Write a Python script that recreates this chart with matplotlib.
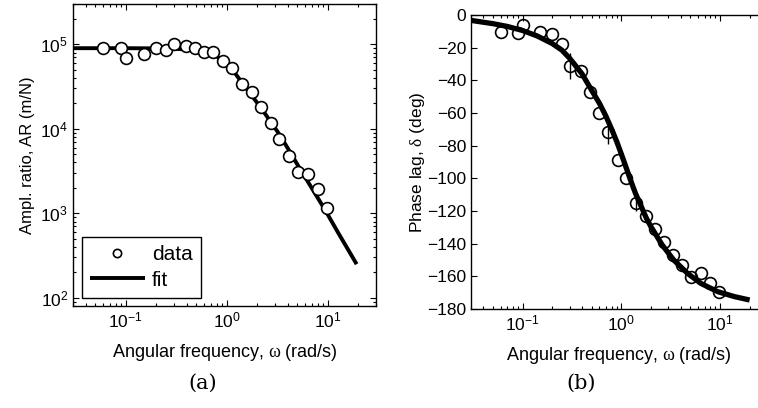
import matplotlib
matplotlib.use('Agg')
import matplotlib.pyplot as plt
from matplotlib.ticker import LogLocator, NullFormatter, MultipleLocator

plt.rcParams['font.family'] = ['Liberation Sans', 'DejaVu Sans']
plt.rcParams['mathtext.fontset'] = 'custom'
plt.rcParams['mathtext.rm'] = 'Liberation Sans'
plt.rcParams['mathtext.it'] = 'Liberation Sans:italic'
plt.rcParams['mathtext.sf'] = 'Liberation Serif'
plt.rcParams['axes.unicode_minus'] = True

# measured points (same frequencies in both panels)
omega = [0.06, 0.09, 0.1, 0.15, 0.2, 0.25, 0.3, 0.39, 0.48, 0.59, 0.73, 0.92,
         1.13, 1.4, 1.77, 2.18, 2.72, 3.32, 4.1, 5.1, 6.4, 8.0, 9.9]
ar_data = [9.1e4, 9.1e4, 6.9e4, 7.6e4, 9.0e4, 8.5e4, 1.0e5, 9.6e4, 9.1e4, 8.2e4,
           8.1e4, 6.3e4, 5.3e4, 3.4e4, 2.7e4, 1.82e4, 1.18e4, 7.5e3, 4.75e3,
           3.07e3, 2.9e3, 1.92e3, 1.16e3]
ar_err = [0, 0, 0, 0, 0, 0, 0, 0, 0, 0, 0, 0, 0, 5e3, 0, 0, 0, 0, 0, 0, 0, 0, 0]
phase_data = [-10.6, -11.2, -6.1, -10.6, -11.6, -17.6, -31.2, -34.3, -47.3, -60.0,
              -71.8, -88.8, -99.8, -115.1, -123.0, -130.8, -139.2, -147.1, -153.0,
              -160.4, -158.2, -163.9, -169.6]
phase_err = [0, 0, 0, 0, 0, 0, 8, 0, 0, 0, 7, 0, 0, 5, 0, 0, 0, 0, 0, 0, 0, 0, 0]

# fitted curves
fit_w_ar = [0.03, 0.1, 0.2, 0.3, 0.5, 0.7, 0.89, 1.13, 1.42, 1.78, 2.4, 3.25,
            4.08, 5.12, 6.92, 9.38, 12.7, 19.3]
fit_ar = [9.0e4, 9.0e4, 8.95e4, 8.85e4, 8.6e4, 7.9e4, 6.6e4, 5.05e4, 3.5e4,
          2.45e4, 1.5e4, 8.9e3, 5.7e3, 3.6e3, 2.0e3, 1.1e3, 5.85e2, 2.5e2]
fit_w_ph = [0.03, 0.05, 0.07, 0.1, 0.14, 0.2, 0.25, 0.3, 0.4, 0.5, 0.6, 0.7, 0.8,
            0.9, 1.0, 1.1, 1.24, 1.4, 1.57, 1.8, 2.0, 2.6, 3.4, 4.7, 6.4, 9.5,
            14.0, 20.0]
fit_ph = [-3.3, -5.3, -7.0, -9.5, -12.8, -17.5, -21.5, -26.5, -36.0, -46.0, -54.0,
          -62.0, -70.0, -77.5, -85.0, -92.0, -101.0, -109.5, -116.3, -124.5,
          -129.6, -140.8, -150.0, -158.2, -164.3, -169.4, -172.4, -174.5]

W, H = 758, 408
fig = plt.figure(figsize=(W / 100, H / 100), dpi=100)
ax1 = fig.add_axes([73 / W, 102 / H, 303 / W, 302 / H])
ax2 = fig.add_axes([471 / W, 99 / H, 296 / W, 294 / H])

xlabel = r'Angular frequency, $\mathsf{\omega}$ (rad/s)'


def style_axis(ax):
    ax.set_xscale('log')
    ax.set_xlim(0.03, 30)
    ax.xaxis.set_major_locator(LogLocator(base=10))
    ax.xaxis.set_minor_locator(LogLocator(base=10, subs=range(2, 10)))
    ax.xaxis.set_minor_formatter(NullFormatter())
    ax.tick_params(which='both', direction='in', top=True, right=True,
                   labelsize=12.5, width=0.8)
    ax.tick_params(which='major', length=4)
    ax.tick_params(which='minor', length=2)
    for s in ax.spines.values():
        s.set_linewidth(1.0)
    ax.set_xlabel(xlabel, fontsize=13, labelpad=8)


# (a) amplitude ratio
ax1.plot(fit_w_ar, fit_ar, color='black', lw=2.8, solid_capstyle='butt',
         label='fit', zorder=2)
ax1.errorbar(omega, ar_data, yerr=ar_err, fmt='none', ecolor='black',
             elinewidth=1, zorder=3)
ax1.plot(omega, ar_data, 'o', mfc='white', mec='black', mew=1.2, ms=8.5,
         label='data', zorder=3)
ax1.set_yscale('log')
ax1.set_ylim(80, 3e5)
ax1.yaxis.set_major_locator(LogLocator(base=10))
ax1.yaxis.set_minor_locator(LogLocator(base=10, subs=range(2, 10)))
ax1.yaxis.set_minor_formatter(NullFormatter())
style_axis(ax1)
ax1.set_ylabel('Ampl. ratio, AR (m/N)', fontsize=12, labelpad=4)
h, l = ax1.get_legend_handles_labels()
leg = ax1.legend(h[::-1], l[::-1], loc='lower left',
                 bbox_to_anchor=(9 / 303, 8 / 302), borderaxespad=0,
                 fontsize=15, fancybox=False, framealpha=1, edgecolor='black',
                 handlelength=2.6, markerscale=0.7, borderpad=0.4,
                 labelspacing=0.3, handletextpad=0.35)
leg.get_frame().set_linewidth(1.0)

# (b) phase lag
ax2.plot(fit_w_ph, fit_ph, color='black', lw=3.8, solid_capstyle='butt', zorder=2)
ax2.errorbar(omega, phase_data, yerr=phase_err, fmt='none', ecolor='black',
             elinewidth=1, zorder=3)
ax2.plot(omega, phase_data, 'o', mfc='none', mec='black', mew=1.2, ms=8.5,
         zorder=3)
ax2.set_ylim(-180, 0)
ax2.yaxis.set_major_locator(MultipleLocator(20))
style_axis(ax2)
ax2.set_ylabel(r'Phase lag, $\mathsf{\delta}$ (deg)', fontsize=12.5, labelpad=0)

fig.text(203 / W, 1 - 383 / H, '(a)', ha='center', va='center',
         family='DejaVu Serif', fontsize=15)
fig.text(581 / W, 1 - 383 / H, '(b)', ha='center', va='center',
         family='DejaVu Serif', fontsize=15)

fig.savefig('out.png', dpi=100)
